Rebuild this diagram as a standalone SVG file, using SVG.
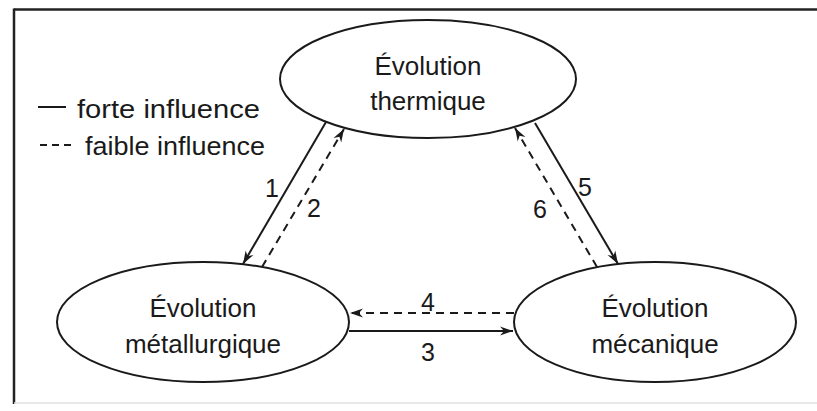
<svg xmlns="http://www.w3.org/2000/svg" width="817" height="411" viewBox="0 0 817 411">
<style>
.node ellipse{fill:#fff;stroke:#1a1a1a;stroke-width:2}
text{font-family:"Liberation Sans",Arial,sans-serif;fill:#1a1a1a}
.nt{font-size:26px;text-anchor:middle}
.lg{font-size:26px}
.num{font-size:25px;text-anchor:middle}
.solid{stroke:#1a1a1a;stroke-width:2;fill:none}
.dash{stroke:#1a1a1a;stroke-width:2;fill:none;stroke-dasharray:8 6}
</style>
<defs>
<marker id="ah" markerUnits="userSpaceOnUse" markerWidth="16" markerHeight="12" viewBox="-14 -6 16 12" refX="0" refY="0" orient="auto">
<path d="M0,0 L-13,-4.5 L-9,0 L-13,4.5 Z" fill="#1a1a1a"/>
</marker>
</defs>
<rect width="817" height="411" fill="#fff"/>
<g id="frame">
<line x1="14" y1="9.5" x2="817" y2="9.5" stroke="#222" stroke-width="2.5"/>
<line x1="14" y1="8.5" x2="14" y2="404" stroke="#222" stroke-width="2.5"/>
<line x1="14" y1="403" x2="817" y2="403" stroke="#e2e2e2" stroke-width="1.5"/>
</g>
<g id="legend">
<line x1="38" y1="107" x2="66" y2="107" class="solid"/>
<text class="lg" x="77" y="118" textLength="183" lengthAdjust="spacingAndGlyphs">forte influence</text>
<path d="M40,145 H47 M52,145 H59 M64,145 H71" class="solid"/>
<text class="lg" x="85" y="155" textLength="180" lengthAdjust="spacingAndGlyphs">faible influence</text>
</g>
<g id="connectors">
<line x1="326" y1="122" x2="243" y2="264" class="solid" marker-end="url(#ah)"/>
<line x1="262" y1="267" x2="344" y2="129" class="dash" marker-end="url(#ah)"/>
<line x1="535" y1="123" x2="618" y2="264" class="solid" marker-end="url(#ah)"/>
<line x1="597" y1="267" x2="515" y2="128" class="dash" marker-end="url(#ah)"/>
<line x1="514" y1="313" x2="350" y2="313" class="dash" marker-end="url(#ah)"/>
<line x1="349" y1="331" x2="513" y2="331" class="solid" marker-end="url(#ah)"/>
<text class="num" x="272" y="197">1</text>
<text class="num" x="314" y="217">2</text>
<text class="num" x="428" y="311">4</text>
<text class="num" x="428" y="361">3</text>
<text class="num" x="585" y="196">5</text>
<text class="num" x="540" y="218">6</text>
</g>
<g id="thermique" class="node">
<ellipse cx="428" cy="79" rx="148" ry="59"/>
<text class="nt" x="428" y="75">Évolution</text>
<text class="nt" x="428" y="110">thermique</text>
</g>
<g id="metallurgique" class="node">
<ellipse cx="203" cy="322" rx="146" ry="60"/>
<text class="nt" x="203" y="317">Évolution</text>
<text class="nt" x="203" y="353">métallurgique</text>
</g>
<g id="mecanique" class="node">
<ellipse cx="655" cy="322" rx="141" ry="60"/>
<text class="nt" x="655" y="317">Évolution</text>
<text class="nt" x="655" y="353">mécanique</text>
</g>
</svg>
